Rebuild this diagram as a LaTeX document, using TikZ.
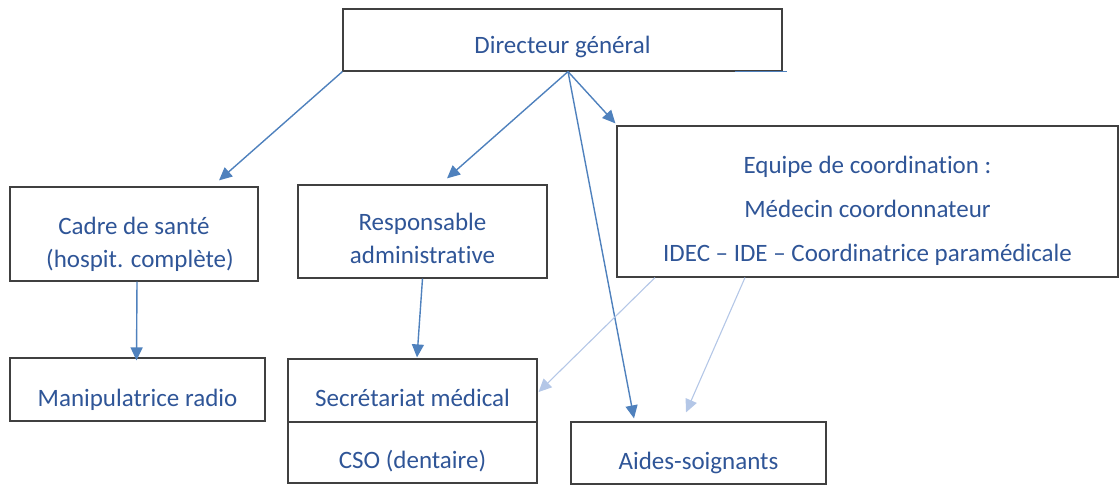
\documentclass[tikz,border=0pt]{standalone}
\usepackage{fontspec}
\setmainfont{Carlito}[Ligatures=NoCommon]
\usetikzlibrary{arrows.meta}
\definecolor{txtblue}{HTML}{2F5597}
\definecolor{arrblue}{HTML}{4F81BD}
\definecolor{paleblue}{HTML}{B4C7E7}
\definecolor{boxgray}{HTML}{404040}
\tikzset{
  box/.style={draw=boxgray, line width=1.2pt, inner sep=0pt, text=txtblue,
    align=center, font=\fontsize{25}{33}\selectfont},
  link/.style={draw=arrblue, line width=1.4pt, -{Triangle[length=13pt,width=12pt]}},
  palelink/.style={draw=paleblue, line width=1.1pt, -{Triangle[length=13pt,width=12pt]}}
}
% move a label down without changing its size
\newcommand{\lowered}[2]{\raisebox{-#1}[\height][\depth]{#2}}
\newcommand{\twolines}[3]{\lowered{#1}{\begin{tabular}{@{}c@{}}#2\\#3\end{tabular}}}
\begin{document}
\begin{tikzpicture}[x=1pt,y=-1pt]
    \useasboundingbox (0,0) rectangle (1119,485);

    % draw the boxes
    \node[box, minimum width=439pt, minimum height=62pt] (dg) at (562.5,40) {\lowered{7pt}{Directeur général}};
    \node[box, minimum width=501pt, minimum height=151pt, font=\fontsize{25}{44}\selectfont] (equipe) at (867.5,201.5)
      {\lowered{7pt}{\begin{tabular}{@{}c@{}}Equipe de coordination :\\Médecin coordonnateur\\IDEC – IDE – Coordinatrice paramédicale\end{tabular}}};
    \node[box, minimum width=248pt, minimum height=94pt] (cadre) at (134,234)
      {\twolines{10pt}{Cadre de santé}{\hspace*{12pt}(hospit. complète)}};
    \node[box, minimum width=249pt, minimum height=93pt] (resp) at (422.5,231.5)
      {\twolines{9pt}{Responsable}{administrative}};
    \node[box, minimum width=255pt, minimum height=63pt] (manip) at (137.5,389.5) {\lowered{10pt}{Manipulatrice radio}};
    \node[box, minimum width=249pt, minimum height=63pt] (secr) at (412.5,390.5) {\lowered{7pt}{Secrétariat médical}};
    \node[box, minimum width=249pt, minimum height=61pt] (cso) at (412.5,452.5) {\lowered{9pt}{CSO (dentaire)}};
    \node[box, minimum width=255pt, minimum height=62pt] (aides) at (698.5,453) {\lowered{10pt}{Aides-soignants}};

    % blue end of the top box
    \draw[arrblue, line width=1.4pt] ([xshift=-48pt]dg.south east) -- ([xshift=4pt]dg.south east);

    % draw the links from the director
    \draw[link] (dg.south west) -- ([shift={(85,-6)}]cadre.north);
    \draw[link] ([xshift=5.5pt]dg.south) -- ([shift={(24.5,-6)}]resp.north);
    \draw[link] ([xshift=5.5pt]dg.south) -- ([shift={(-1,-2)}]equipe.north west);
    \draw[link] ([xshift=5.5pt]dg.south) -- ([shift={(-64.5,-3)}]aides.north);

    % draw the links to the lower boxes
    \draw[link] ([xshift=3pt]cadre.south) -- ([shift={(-1,3)}]manip.north);
    \draw[link] (resp.south) -- ([shift={(4.5,-1)}]secr.north);

    % the pale links from the coordination team
    \draw[palelink] ([xshift=-212.5pt]equipe.south) -- ([shift={(1,1.5)}]secr.east);
    \draw[palelink] ([xshift=-122.5pt]equipe.south) -- ([shift={(-12.5,-9)}]aides.north);
  \end{tikzpicture}
\end{document}
